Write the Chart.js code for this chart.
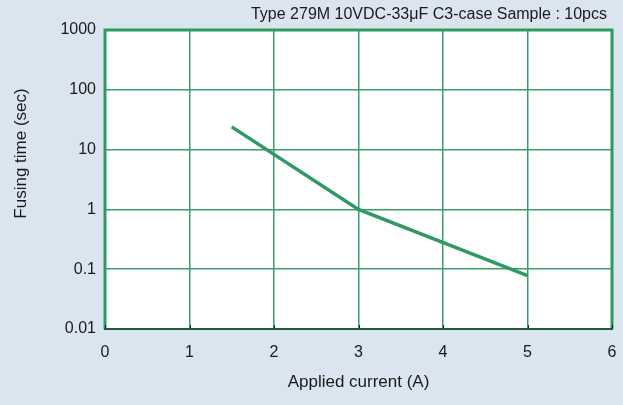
<!DOCTYPE html>
<html>
<head>
<meta charset="utf-8">
<script src="https://cdn.jsdelivr.net/npm/chart.js@4"></script>
<style>
  html, body { margin: 0; padding: 0; background: #dbe5f0; }
  #wrap { width: 623px; height: 405px; }
</style>
</head>
<body>
<div id="wrap"><canvas id="chart" width="623" height="405"></canvas></div>
<script>
// ---- données ----
const currentA = [1.5, 3, 5];
const fusingSec = [24, 1, 0.078];
const yTickValues = [0.01, 0.1, 1, 10, 100, 1000];
const yTickLabels = ["0.01", "0.1", "1", "10", "100", "1000"];
const xTickLabels = ["0", "1", "2", "3", "4", "5", "6"];
const headerText = "Type 279M 10VDC-33\u03bcF C3-case Sample : 10pcs";
const yTitle = "Fusing time (sec)";
const xTitle = "Applied current (A)";

const GREEN = "#2e9a62";
const GRID = "#3a9e6a";
const TEXT = "#1a1a1a";
const FONT = "'Liberation Sans', Arial, sans-serif";

// fond blanc, cadre vert, petites graduations, textes libres
const plotFrame = {
    id: "plotFrame",
    beforeDraw(chart) {
        const { ctx, chartArea: a } = chart;
        ctx.save();
        ctx.fillStyle = "#ffffff";
        ctx.fillRect(a.left, a.top, a.right - a.left, a.bottom - a.top);
        ctx.restore();
    },
    afterDraw(chart) {
        const { ctx, chartArea: a } = chart;
        const xs = chart.scales.x;
        ctx.save();
        ctx.strokeStyle = GREEN;
        ctx.lineWidth = 3;
        ctx.beginPath();
        ctx.moveTo(a.left, a.bottom);
        ctx.lineTo(a.left, a.top);
        ctx.lineTo(a.right, a.top);
        ctx.lineTo(a.right, a.bottom);
        ctx.stroke();

        // graduations vers l'intérieur sur l'axe du bas
        ctx.strokeStyle = "#222";
        ctx.lineWidth = 1;
        xs.ticks.forEach(t => {
            const px = Math.round(xs.getPixelForValue(t.value)) + 0.5;
            ctx.beginPath();
            ctx.moveTo(px, a.bottom);
            ctx.lineTo(px, a.bottom - 4);
            ctx.stroke();
        });

        ctx.strokeStyle = "#1f5a3c";
        ctx.lineWidth = 2;
        ctx.beginPath();
        ctx.moveTo(a.left - 1, a.bottom);
        ctx.lineTo(a.right + 1, a.bottom);
        ctx.stroke();

        // texte en haut à droite
        ctx.fillStyle = TEXT;
        ctx.font = "16px " + FONT;
        ctx.textAlign = "right";
        ctx.textBaseline = "middle";
        ctx.fillText(headerText, a.right - 5, 15);

        // titre de l'axe Y
        ctx.font = "17px " + FONT;
        ctx.translate(21, (a.top + a.bottom) / 2 - 26);
        ctx.rotate(-Math.PI / 2);
        ctx.textAlign = "center";
        ctx.fillText(yTitle, 0, 0);
        ctx.restore();
    }
};

const ctx = document.getElementById("chart").getContext("2d");
new Chart(ctx, {
    type: "line",
    data: {
        datasets: [{
            data: currentA.map((x, i) => ({ x: x, y: fusingSec[i] })),
            borderColor: GREEN,
            borderWidth: 3.5,
            pointRadius: 0,
            tension: 0,
            fill: false
        }]
    },
    options: {
        responsive: false,
        animation: false,
        layout: { padding: { top: 30, right: 11, left: 0, bottom: 0 } },
        plugins: {
            legend: { display: false },
            tooltip: { enabled: false }
        },
        scales: {
            x: {
                type: "linear",
                min: 0,
                max: 6,
                ticks: {
                    stepSize: 1,
                    color: TEXT,
                    font: { family: FONT, size: 16 },
                    padding: 14,
                    callback: (v) => xTickLabels[v] ?? ""
                },
                grid: { color: GRID, lineWidth: 1.5, drawTicks: false },
                border: { display: false },
                title: {
                    display: true,
                    text: xTitle,
                    color: TEXT,
                    font: { family: FONT, size: 17 },
                    padding: { top: 4, bottom: 12 }
                },
                afterFit: (s) => { s.height = 76; s.paddingLeft = 0; s.paddingRight = 0; }
            },
            y: {
                type: "logarithmic",
                min: 0.01,
                max: 1000,
                afterBuildTicks: (s) => { s.ticks = yTickValues.map(v => ({ value: v })); },
                ticks: {
                    color: TEXT,
                    font: { family: FONT, size: 16 },
                    padding: 9,
                    callback: (v) => {
                        const i = yTickValues.indexOf(v);
                        return i >= 0 ? yTickLabels[i] : "";
                    }
                },
                grid: { color: GRID, lineWidth: 1.5, drawTicks: false },
                border: { display: false },
                afterFit: (s) => { s.width = 105; s.paddingTop = 0; s.paddingBottom = 0; }
            }
        }
    },
    plugins: [plotFrame]
});
</script>
</body>
</html>
